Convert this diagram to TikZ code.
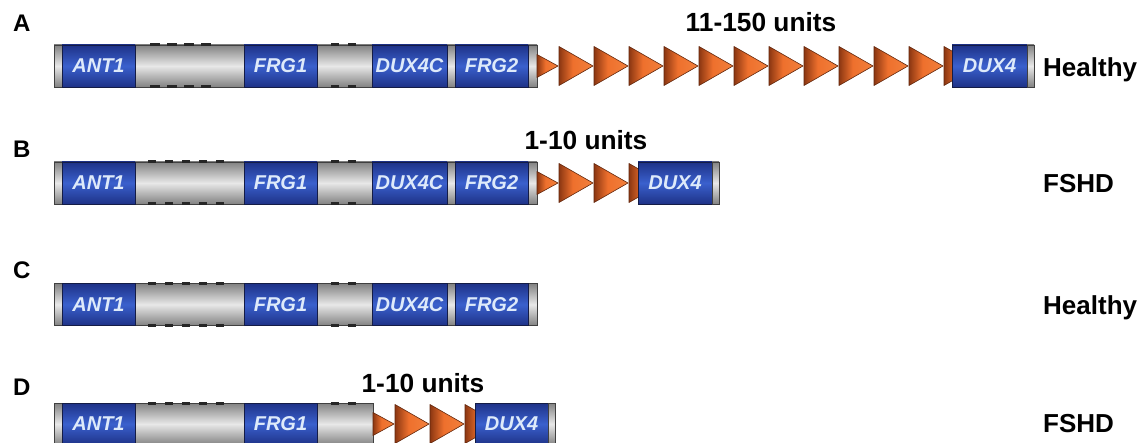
\documentclass[tikz,border=0pt]{standalone}
\usepackage{fontspec}
\setmainfont{Liberation Sans}
\definecolor{bluemid}{RGB}{58,96,205}
\definecolor{blueedge}{RGB}{30,50,135}
\definecolor{bluebord}{RGB}{20,28,70}
\definecolor{greymid}{RGB}{232,232,232}
\definecolor{greyedge}{RGB}{130,130,130}
\definecolor{orangemid}{RGB}{238,112,45}
\definecolor{orangelight}{RGB}{242,128,60}
\definecolor{orangedark}{RGB}{140,55,18}
\definecolor{genetext}{RGB}{222,234,250}
\pgfdeclarehorizontalshading{unitshade}{100bp}{color(0bp)=(orangedark); color(25bp)=(orangedark); color(45bp)=(orangemid); color(75bp)=(orangelight); color(100bp)=(orangelight)}
\tikzset{
  x=1pt, y=-1pt,
  greybar/.style={draw=black!75, line width=0.8pt, top color=greyedge, bottom color=greyedge, middle color=greymid, inner sep=0pt, minimum height=42pt},
  geneblk/.style={draw=bluebord, line width=0.8pt, top color=blueedge, bottom color=blueedge, middle color=bluemid, inner sep=0pt, minimum height=42pt, text=genetext, font=\fontsize{20}{22}\selectfont\bfseries\itshape},
  unit/.style={draw=orangedark!70!black, line width=0.6pt, shading=unitshade, line join=round},
  dashmark/.style={line width=3pt, black!85},
  rowlabel/.style={font=\fontsize{24}{26}\selectfont\bfseries, inner sep=0pt, anchor=west},
  status/.style={font=\fontsize{26}{28}\selectfont\bfseries, inner sep=0pt, anchor=base west},
  count/.style={font=\fontsize{26.3}{28}\selectfont\bfseries, inner sep=0pt},
}
\newcommand\gene[5]{\node[geneblk, minimum width={(#3-#2)*1pt}] (#1) at ({(#2+#3)/2},#4) {#5};}
\newcommand\capseg[4]{\node[greybar, minimum width={(#3-#2)*1pt}] (#1) at ({(#2+#3)/2},#4) {};}
\newcommand\halfT[2]{\draw[unit] (#1,#2-11.5) -- (#1+21,#2) -- (#1,#2+11.5) -- cycle;}
\newcommand\fullT[2]{\draw[unit] (#1,#2-19.5) -- (#1+34,#2) -- (#1,#2+19.5) -- cycle;}
\newcommand\locus[3]{%
  \capseg{bar#1}{54}{537}{#2}
  \gene{ant#1}{62}{135}{#2}{ANT1}
  \gene{frga#1}{244}{317}{#2}{FRG1}
  \gene{duxc#1}{372}{447}{#2}{DUX4C}
  \gene{frgb#1}{455}{528}{#2}{FRG2}
  \ifnum#3=4
  \draw[dashmark, dash pattern=on 10pt off 7pt] (150,#2-21) -- (211,#2-21);
  \draw[dashmark, dash pattern=on 10pt off 7pt] (150,#2+21) -- (211,#2+21);
  \else
  \draw[dashmark, dash pattern=on 8pt off 9pt] (148,#2-21) -- (225,#2-21);
  \draw[dashmark, dash pattern=on 8pt off 9pt] (148,#2+21) -- (225,#2+21);
  \fi
  \draw[dashmark, dash pattern=on 8pt off 9pt] (331,#2-21) -- (357,#2-21);
  \draw[dashmark, dash pattern=on 8pt off 9pt] (331,#2+21) -- (357,#2+21);
}
\begin{document}
\begin{tikzpicture}
\useasboundingbox (0,0) rectangle (1142,443);
\fill[white] (0,0) rectangle (1142,443);

% ---------- Row A ----------
\node[rowlabel] (labA) at (13,23.5) {A};
\locus{A}{66}{4}
\halfT{537}{66}
\foreach \k in {0,...,10} {\fullT{559+35*\k}{66}}
\fullT{944}{66}
\gene{duxA}{952}{1027}{66}{DUX4}
\capseg{capA}{1027}{1034}{66}
\node[count] (cntA) at (761,22.5) {11-150 units};
\node[status] (stA) at (1043,76.4) {Healthy};

% ---------- Row B ----------
\node[rowlabel] (labB) at (13,149) {B};
\locus{B}{183}{5}
\halfT{537}{183}
\fullT{559}{183}
\fullT{594}{183}
\fullT{629}{183}
\gene{duxB}{638}{712}{183}{DUX4}
\capseg{capB}{712}{719}{183}
\node[count] (cntB) at (586,140) {1-10 units};
\node[status] (stB) at (1043,192.4) {FSHD};

% ---------- Row C ----------
\node[rowlabel] (labC) at (13,270) {C};
\locus{C}{304.5}{5}
\node[status] (stC) at (1043,314.4) {Healthy};

% ---------- Row D ----------
\node[rowlabel] (labD) at (13,387) {D};
\capseg{barD}{54}{373}{424}
\gene{antD}{62}{135}{424}{ANT1}
\gene{frgaD}{244}{317}{424}{FRG1}
\draw[dashmark, dash pattern=on 8pt off 9pt] (148,403) -- (225,403);
\draw[dashmark, dash pattern=on 8pt off 9pt] (148,445) -- (225,445);
\draw[dashmark, dash pattern=on 8pt off 9pt] (331,403) -- (357,403);
\draw[dashmark, dash pattern=on 8pt off 9pt] (331,445) -- (357,445);
\halfT{373}{424}
\fullT{395}{424}
\fullT{430}{424}
\fullT{465}{424}
\gene{duxD}{475}{548}{424}{DUX4}
\capseg{capD}{548}{555}{424}
\node[count] (cntD) at (423,383.5) {1-10 units};
\node[status] (stD) at (1043,432.4) {FSHD};
\end{tikzpicture}
\end{document}
